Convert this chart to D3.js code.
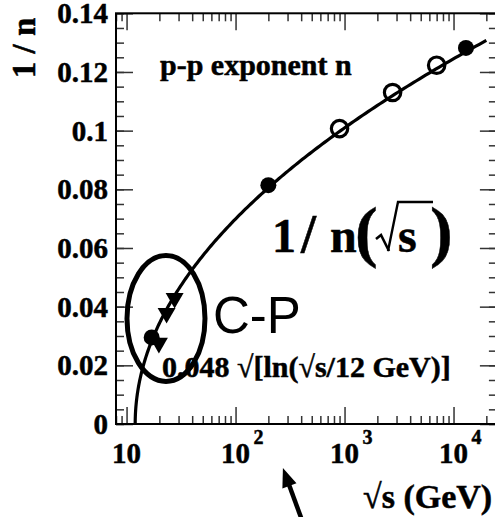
<!DOCTYPE html>
<html>
<head>
<meta charset="utf-8">
<script src="https://cdn.jsdelivr.net/npm/d3@7"></script>
<style>
  html, body { margin: 0; padding: 0; background: #fff; }
  svg { display: block; }
  .serif { font-family: "Liberation Serif", "Times New Roman", serif; font-weight: bold;
           stroke: #000; stroke-width: 0.5px; }
  .sans { font-family: "Liberation Sans", Arial, sans-serif; }
</style>
</head>
<body>
<svg id="chart" width="495" height="517"></svg>
<script>
// p-p exponent n: measured points (sqrt(s) in GeV, 1/n)
const filledEnergy = [17.0, 200, 13000];
const filledInvN   = [0.0295, 0.0814, 0.1282];
const openEnergy   = [900, 2760, 7000];
const openInvN     = [0.1007, 0.113, 0.1223];
const cpEnergy     = [19.8, 23.3, 27.6];
const cpInvN       = [0.0276, 0.0378, 0.0429];

// fit 1/n = A * sqrt(ln(sqrt(s) / E0))
const fitA = 0.048;
const fitE0 = 12;
const fitEnd = 20000;

const yTicks = [0, 0.02, 0.04, 0.06, 0.08, 0.1, 0.12, 0.14];
const yTickLabels = ["0", "0.02", "0.04", "0.06", "0.08", "0.1", "0.12", "0.14"];
const yMinor = d3.range(0, 0.1401, 0.005);
const xTicks = [10, 100, 1000, 10000];
const xTickExp = ["", "2", "3", "4"];
const xMinorMult = [2, 3, 4, 5, 6, 7, 8, 9];

const svg = d3.select("#chart");
const plotL = 116, plotR = 496.9, plotT = 13.3, plotB = 424;

const x = d3.scaleLog().domain([8, 25000]).range([plotL, plotR]);
const y = d3.scaleLinear().domain([0, 0.14]).range([plotB, plotT]);

const xMinor = [];
[1, 10, 100, 1000, 10000].forEach(d => xMinorMult.forEach(m => {
  const v = d * m;
  if (v >= 8 && v <= 25000) xMinor.push(v);
}));

const MAJ = 17, MIN = 8;
function styleAxis(g) {
  g.select(".domain").remove();
  g.selectAll(".tick line").attr("stroke", "#333").attr("stroke-width", 1.5);
  g.selectAll(".tick text").remove();
}

// ticks (all pointing inward)
svg.append("g").attr("transform", `translate(${plotL},0)`)
  .call(d3.axisLeft(y).tickValues(yMinor).tickSize(-MIN).tickSizeOuter(0)).call(styleAxis);
svg.append("g").attr("transform", `translate(${plotL},0)`)
  .call(d3.axisLeft(y).tickValues(yTicks).tickSize(-MAJ).tickSizeOuter(0)).call(styleAxis);
svg.append("g").attr("transform", `translate(${plotR},0)`)
  .call(d3.axisRight(y).tickValues(yMinor).tickSize(-MIN).tickSizeOuter(0)).call(styleAxis);
svg.append("g").attr("transform", `translate(${plotR},0)`)
  .call(d3.axisRight(y).tickValues(yTicks).tickSize(-MAJ).tickSizeOuter(0)).call(styleAxis);
svg.append("g").attr("transform", `translate(0,${plotB})`)
  .call(d3.axisBottom(x).tickValues(xMinor).tickSize(-MIN).tickSizeOuter(0)).call(styleAxis);
svg.append("g").attr("transform", `translate(0,${plotB})`)
  .call(d3.axisBottom(x).tickValues(xTicks).tickSize(-MAJ).tickSizeOuter(0)).call(styleAxis);
svg.append("g").attr("transform", `translate(0,${plotT})`)
  .call(d3.axisTop(x).tickValues(xMinor).tickSize(-MIN).tickSizeOuter(0)).call(styleAxis);
svg.append("g").attr("transform", `translate(0,${plotT})`)
  .call(d3.axisTop(x).tickValues(xTicks).tickSize(-MAJ).tickSizeOuter(0)).call(styleAxis);

// frame
svg.append("rect")
  .attr("x", plotL).attr("y", plotT)
  .attr("width", plotR - plotL).attr("height", plotB - plotT)
  .attr("fill", "none").attr("stroke", "#000").attr("stroke-width", 2);

// y tick labels
svg.append("g").selectAll("text").data(yTicks).join("text")
  .attr("class", "serif")
  .attr("x", plotL - 8)
  .attr("y", d => y(d))
  .attr("dy", "0.35em")
  .attr("text-anchor", "end")
  .attr("font-size", 29)
  .text((d, i) => yTickLabels[i]);

// x tick labels: 10, 10^2, 10^3, 10^4
const xl = svg.append("g").selectAll("g").data(xTicks).join("g")
  .attr("transform", d => `translate(${x(d)},${plotB + 39})`);
xl.append("text").attr("class", "serif")
  .attr("text-anchor", "middle").attr("font-size", 29).text("10");
xl.append("text").attr("class", "serif")
  .attr("x", 18).attr("y", -19)
  .attr("font-size", 20)
  .text((d, i) => xTickExp[i]);

// axis titles
svg.append("text").attr("class", "serif")
  .attr("transform", "translate(35,48) rotate(-90)")
  .attr("text-anchor", "middle").attr("font-size", 33)
  .text("1 / n");
svg.append("text").attr("class", "serif")
  .attr("x", 363).attr("y", 508)
  .attr("font-size", 34)
  .text("\u221As (GeV)");

// fit curve
const tMax = Math.log(fitEnd / fitE0);
const curve = d3.range(0, 201).map(i => {
  const t = tMax * Math.pow(i / 200, 2);
  return [fitE0 * Math.exp(t), fitA * Math.sqrt(t)];
});
svg.append("path")
  .datum(curve)
  .attr("fill", "none").attr("stroke", "#000").attr("stroke-width", 3.2)
  .attr("d", d3.line().x(d => x(d[0])).y(d => y(d[1])));

// markers
svg.append("g").selectAll("circle").data(filledEnergy).join("circle")
  .attr("cx", d => x(d)).attr("cy", (d, i) => y(filledInvN[i]))
  .attr("r", 8).attr("fill", "#000");
svg.append("g").selectAll("circle").data(openEnergy).join("circle")
  .attr("cx", d => x(d)).attr("cy", (d, i) => y(openInvN[i]))
  .attr("r", 8.2).attr("fill", "none").attr("stroke", "#000").attr("stroke-width", 3.2);
svg.append("g").selectAll("path").data(cpEnergy).join("path")
  .attr("transform", (d, i) => `translate(${x(d)},${y(cpInvN[i])}) rotate(180)`)
  .attr("d", d3.symbol().type(d3.symbolTriangle).size(140)())
  .attr("fill", "#000");

// highlighted C-P region
svg.append("ellipse")
  .attr("cx", x(23)).attr("cy", y(0.036))
  .attr("rx", 39).attr("ry", 63)
  .attr("fill", "none").attr("stroke", "#000").attr("stroke-width", 5);

// annotations
svg.append("text").attr("class", "serif")
  .attr("x", 160).attr("y", 75).attr("font-size", 30)
  .text("p-p exponent n");

svg.append("text").attr("class", "sans")
  .attr("x", 213).attr("y", 333).attr("font-size", 51)
  .text("C-P");

svg.append("text").attr("class", "serif")
  .attr("x", 162).attr("y", 377).attr("font-size", 30)
  .text("0.048 \u221A[ln(\u221As/12 GeV)]");

// 1 / n(sqrt s) with tall parentheses and a drawn radical
const big = svg.append("text").attr("class", "serif")
  .attr("y", 252).attr("font-size", 48);
big.append("tspan").attr("x", 272).text("1");
big.append("tspan").attr("x", 330).text("n");
big.append("tspan").attr("x", 398).text("s");
svg.append("text").attr("class", "serif")
  .attr("x", 301).attr("y", 252).attr("font-size", 54).text("/");
svg.append("text").attr("class", "serif")
  .attr("x", 355).attr("y", 254).attr("font-size", 68).text("(");
svg.append("text").attr("class", "serif")
  .attr("x", 430).attr("y", 254).attr("font-size", 68).text(")");
svg.append("path")
  .attr("d", "M376,239 L381,235 L389,251")
  .attr("fill", "none").attr("stroke", "#000").attr("stroke-width", 2.6);
svg.append("path")
  .attr("d", "M388,251 L398,202 L433,202")
  .attr("fill", "none").attr("stroke", "#000").attr("stroke-width", 2.4)
  .attr("stroke-linejoin", "miter");

// arrow below the axis
const tipX = x(272), tipY = plotB + 44;
const tailX = tipX + 19, tailY = tipY + 52;
const len = Math.hypot(tailX - tipX, tailY - tipY);
const ux = (tipX - tailX) / len, uy = (tipY - tailY) / len;
const headL = 19, headW = 7.5;
const bx = tipX - ux * headL, by = tipY - uy * headL;
svg.append("line")
  .attr("x1", tailX).attr("y1", tailY).attr("x2", bx + ux * 2).attr("y2", by + uy * 2)
  .attr("stroke", "#000").attr("stroke-width", 4.5);
svg.append("path")
  .attr("d", `M${tipX},${tipY} L${bx - uy * headW},${by + ux * headW} L${bx + uy * headW},${by - ux * headW} Z`)
  .attr("fill", "#000");
</script>
</body>
</html>
